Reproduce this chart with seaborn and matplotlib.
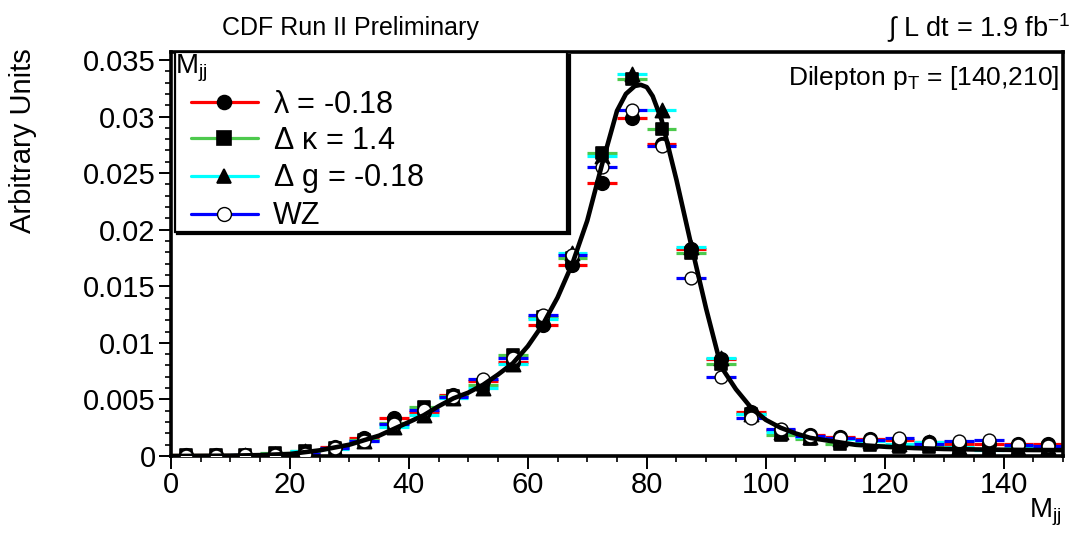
import numpy as np
import pandas as pd
import matplotlib
matplotlib.use("Agg")
import matplotlib.pyplot as plt
from matplotlib.lines import Line2D
from matplotlib.legend_handler import HandlerLine2D
from matplotlib.ticker import MultipleLocator, FuncFormatter
import seaborn as sns

# ---- data -------------------------------------------------------------
bin_centers = [2.5, 7.5, 12.5, 17.5, 22.5, 27.5, 32.5, 37.5, 42.5, 47.5,
               52.5, 57.5, 62.5, 67.5, 72.5, 77.5, 82.5, 87.5, 92.5, 97.5,
               102.5, 107.5, 112.5, 117.5, 122.5, 127.5, 132.5, 137.5, 142.5, 147.5]
bin_half_width = 2.5

lambda_vals = [0.00005, 0.00005, 0.0001, 0.0002, 0.0003, 0.0008, 0.0016, 0.0034, 0.0039, 0.0054,
               0.0066, 0.0083, 0.0116, 0.0169, 0.0241, 0.0299, 0.0276, 0.0183, 0.0086, 0.0039,
               0.0023, 0.0019, 0.0017, 0.0015, 0.0014, 0.0012, 0.0011, 0.0011, 0.0011, 0.0011]
dkappa_vals = [0.00005, 0.00005, 0.0001, 0.0003, 0.0004, 0.0007, 0.0014, 0.0029, 0.0043, 0.0053,
               0.0063, 0.0089, 0.0123, 0.0175, 0.0268, 0.0333, 0.0289, 0.0179, 0.0081, 0.0037,
               0.0019, 0.0015, 0.0011, 0.0010, 0.0008, 0.0008, 0.0007, 0.0006, 0.0006, 0.0007]
dg_vals = [0.00003, 0.00003, 0.00005, 0.0002, 0.0004, 0.0006, 0.0013, 0.0026, 0.0036, 0.0051,
           0.0060, 0.0081, 0.0121, 0.0179, 0.0265, 0.0338, 0.0306, 0.0185, 0.0087, 0.0037,
           0.0021, 0.0017, 0.0015, 0.0013, 0.0011, 0.0012, 0.0008, 0.0005, 0.0007, 0.0008]
wz_vals = [0.00003, 0.00003, 0.00005, 0.0001, 0.0002, 0.0007, 0.0013, 0.0028, 0.0041, 0.0052,
           0.0068, 0.0087, 0.0125, 0.0178, 0.0255, 0.0306, 0.0274, 0.0157, 0.0070, 0.0034,
           0.0024, 0.0018, 0.0016, 0.0014, 0.0016, 0.0011, 0.0013, 0.0014, 0.0010, 0.0009]

# fitted WZ shape
fit_x = [0, 10, 15, 20, 25, 30, 35, 37.5, 40, 42.5, 45, 47.5, 50, 52.5, 55, 57.5, 60,
         62.5, 65, 67.5, 70, 72.5, 75, 76.5, 78, 79, 80, 81, 82.5, 85, 87.5, 90, 92.5,
         95, 97.5, 100, 102.5, 105, 107.5, 110, 112.5, 115, 120, 125, 130, 135, 140, 145, 150]
fit_y = [0.0, 0.00003, 0.00008, 0.00018, 0.0005, 0.0010, 0.0018, 0.0024, 0.0030, 0.0036,
         0.0044, 0.0051, 0.0056, 0.0063, 0.0072, 0.0082, 0.0097, 0.0116, 0.0140, 0.0170,
         0.0208, 0.0258, 0.0305, 0.0320, 0.0327, 0.0328, 0.0326, 0.0318, 0.0297, 0.0244,
         0.0186, 0.0130, 0.0079, 0.0059, 0.0043, 0.0032, 0.0025, 0.0020, 0.0016, 0.0014,
         0.0012, 0.0010, 0.00082, 0.00070, 0.00062, 0.00058, 0.00055, 0.00053, 0.00052]

series_labels = [r"$\lambda$ = -0.18", r"$\Delta$ $\kappa$ = 1.4", r"$\Delta$ g = -0.18", "WZ"]
series_values = [lambda_vals, dkappa_vals, dg_vals, wz_vals]
series_colors = ["#ff0000", "#4dc94d", "#00ffff", "#0000ff"]
series_markers = ["o", "s", "^", "o"]
series_faces = ["black", "black", "black", "white"]
series_sizes = [95, 85, 105, 85]
series_edge = [1.2, 1.2, 1.2, 1.0]

# ---- style ------------------------------------------------------------
sns.set_style("ticks")
plt.rcParams["font.family"] = ["Liberation Sans", "DejaVu Sans"]
plt.rcParams["mathtext.fontset"] = "custom"
plt.rcParams["mathtext.rm"] = "Liberation Sans"
plt.rcParams["mathtext.it"] = "Liberation Sans"
plt.rcParams["mathtext.default"] = "regular"
plt.rcParams["text.color"] = "black"
plt.rcParams["xtick.color"] = "black"
plt.rcParams["ytick.color"] = "black"
plt.rcParams["axes.labelcolor"] = "black"

fig = plt.figure(figsize=(10.78, 5.38), dpi=100)
ax = fig.add_axes([0.1586, 0.1524, 0.8275, 0.7509])

# WZ drawn first so the filled markers sit above its open circles
draw_order = [3, 0, 1, 2]
for i in draw_order:
    df = pd.DataFrame({"x": bin_centers, "y": series_values[i]})
    ax.hlines(df["y"], df["x"] - bin_half_width, df["x"] + bin_half_width,
              color=series_colors[i], linewidth=2.3, zorder=2 + 0.1 * i)
    sns.scatterplot(data=df, x="x", y="y", ax=ax, marker=series_markers[i],
                    s=series_sizes[i], color=series_faces[i], edgecolor="black",
                    linewidth=series_edge[i], zorder=3 + 0.1 * i, legend=False)

fit_df = pd.DataFrame({"x": fit_x, "y": fit_y})
sns.lineplot(data=fit_df, x="x", y="y", ax=ax, color="black", linewidth=3.3,
             zorder=6, legend=False)

# ---- axes -------------------------------------------------------------
ax.set_xlim(0, 150)
ax.set_ylim(0, 0.0357)
ax.set_xlabel("")
ax.set_ylabel("")
ax.xaxis.set_major_locator(MultipleLocator(20))
ax.xaxis.set_minor_locator(MultipleLocator(5))
ax.yaxis.set_major_locator(MultipleLocator(0.005))
ax.yaxis.set_minor_locator(MultipleLocator(0.001))
ax.yaxis.set_major_formatter(FuncFormatter(lambda v, p: f"{v:g}"))
ax.tick_params(which="major", direction="out", length=9, width=1.4,
               labelsize=21, pad=2)
ax.tick_params(which="minor", direction="out", length=4.5, width=1.2)
for side in ["left", "bottom", "right", "top"]:
    ax.spines[side].set_visible(True)
    ax.spines[side].set_linewidth(2.6)
    ax.spines[side].set_color("black")

ax.text(-0.166, 1.01, "Arbitrary Units", transform=ax.transAxes, rotation=90,
        ha="center", va="top", fontsize=21)
fig.text(0.985, 0.018, r"$M_{jj}$", ha="right", va="bottom", fontsize=20)
fig.text(0.206, 0.948, "CDF Run II Preliminary", ha="left", va="center", fontsize=18)
fig.text(0.993, 0.948, r"$\int$ L dt = 1.9 fb$^{-1}$", ha="right", va="center", fontsize=19.5)
ax.text(0.996, 0.936, r"Dilepton p$_{T}$ = [140,210]", transform=ax.transAxes,
        ha="right", va="center", fontsize=19)

# ---- legend -----------------------------------------------------------
handles = [Line2D([], [], color=series_colors[i], linewidth=2.3,
                  marker=series_markers[i], markersize=10,
                  markerfacecolor=series_faces[i], markeredgecolor="black",
                  markeredgewidth=series_edge[i])
           for i in range(4)]
leg = ax.legend(handles, series_labels, title=r"$M_{jj}$", loc="upper left",
                bbox_to_anchor=(0.004, 1.0, 0.44, 0.0), mode="expand",
                borderaxespad=0, fontsize=22, title_fontsize=20,
                handlelength=2.71, handletextpad=0.5, labelspacing=0.2,
                borderpad=0.02, frameon=True, fancybox=False,
                handler_map={Line2D: HandlerLine2D(xpad=0.52)},
                shadow={"color": "black", "alpha": 1.0, "ox": 1.8, "oy": -1.8})
leg._legend_box.align = "left"
leg.get_frame().set_edgecolor("black")
leg.get_frame().set_linewidth(1.6)
leg.get_frame().set_alpha(1.0)
leg.set_zorder(10)

fig.savefig("out.png", dpi=100)
